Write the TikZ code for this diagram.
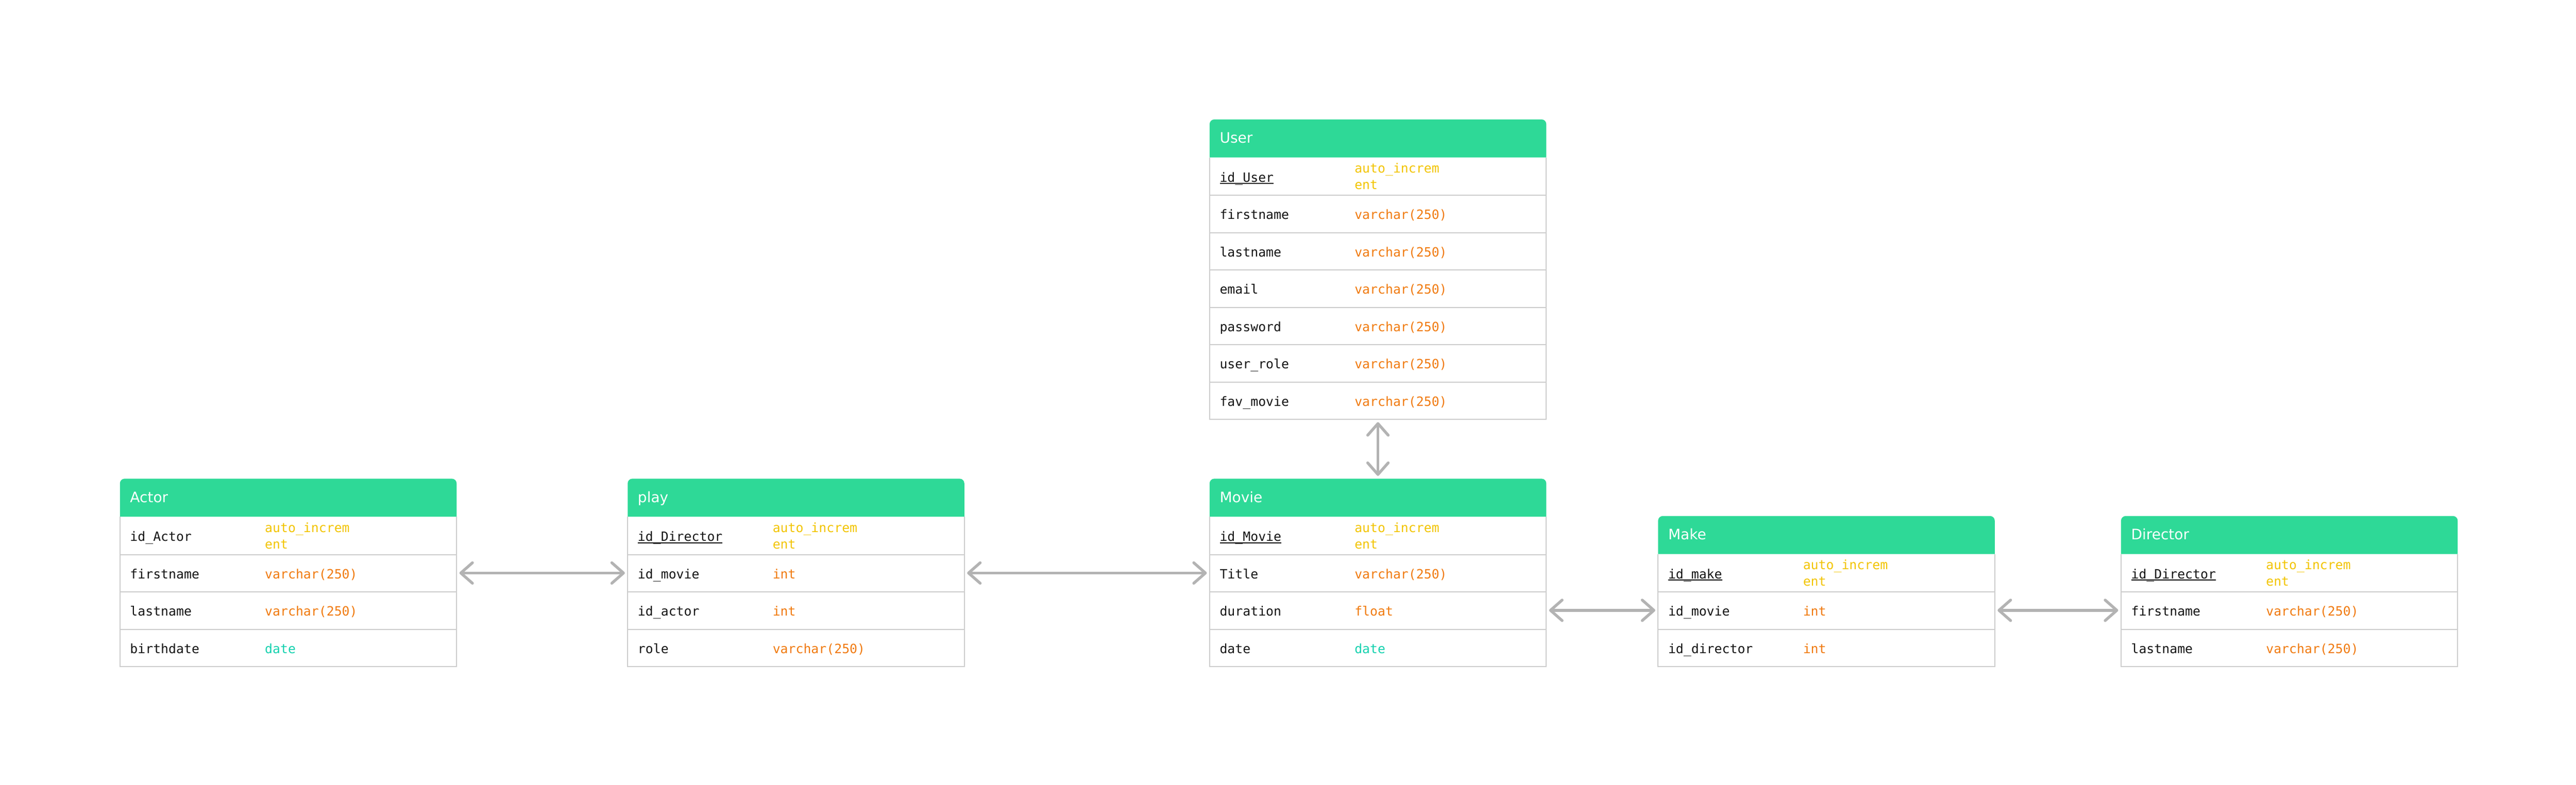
\documentclass[tikz,border=0pt]{standalone}
\usepackage{fontspec}
\usepackage{xcolor}
\usetikzlibrary{arrows.meta,backgrounds}

\newfontfamily\headfnt{DejaVu Sans}
\newfontfamily\monofnt{DejaVu Sans Mono}

\definecolor{hdrgreen}{HTML}{2ED997}
\definecolor{autoc}{HTML}{F2C400}
\definecolor{varc}{HTML}{F07A0E}
\definecolor{datec}{HTML}{14D1AE}
\definecolor{gridc}{HTML}{CCCCCC}
\definecolor{arrowc}{HTML}{B3B3B3}
\definecolor{ink}{HTML}{141414}

% primary key: underlined field name
\newcommand\pkey[1]{\setbox0\hbox{#1}\rlap{\rule[-0.045cm]{\wd0}{0.024cm}}\box0}

\tikzset{
  hdr/.style={anchor=north west, minimum width=7.2cm, minimum height=0.8cm, inner sep=0pt,
    text width=6.78cm, align=left, text height=0.23cm, text depth=0.03cm, text=white,
    font=\headfnt\fontsize{8.8}{10.5}\selectfont},
  fld/.style={anchor=north west, minimum width=7.2cm, minimum height=0.8cm, inner sep=0pt,
    text width=6.78cm, align=left, text height=0.27cm, text depth=0.03cm, text=ink,
    font=\monofnt\fontsize{7.8}{9.96}\selectfont},
  tvar/.style={anchor=west, inner sep=0pt, text height=0.27cm, text depth=0.03cm, text=varc,
    font=\monofnt\fontsize{7.8}{9.96}\selectfont},
  tdate/.style={tvar, text=datec},
  tauto/.style={anchor=west, inner sep=0pt, align=left, text=autoc,
    font=\monofnt\fontsize{7.8}{9.96}\selectfont},
  rowline/.style={draw=gridc, line width=0.025cm},
  rel/.style={draw=arrowc, line width=0.06cm,
    {Straight Barb[length=0.25cm,width=0.44cm,round]}-{Straight Barb[length=0.25cm,width=0.44cm,round]},
    shorten <=0.06cm, shorten >=0.06cm},
}

\begin{document}
\begin{tikzpicture}
    \useasboundingbox (0,0) rectangle (55.2,16.82);

    % User
    \node[hdr] (user) at (25.92,14.26) {User};
    \foreach \nm/\ty/\sty [count=\i] in {\pkey{id\_User}/auto\_increm\\ent/tauto,
        firstname/varchar(250)/tvar, lastname/varchar(250)/tvar, email/varchar(250)/tvar,
        password/varchar(250)/tvar, user\_role/varchar(250)/tvar, fav\_movie/varchar(250)/tvar}{
        \node[fld] (user-\i) at ([yshift={(1-\i)*0.8cm}]user.south west) {\nm};
        \node[\sty] at ([xshift=3.1cm]user-\i.west) {\ty};
        \draw[rowline] (user-\i.north west) |- (user-\i.south east) -- (user-\i.north east);
    }

    % Actor
    \node[hdr] (actor) at (2.57,6.56) {Actor};
    \foreach \nm/\ty/\sty [count=\i] in {id\_Actor/auto\_increm\\ent/tauto,
        firstname/varchar(250)/tvar, lastname/varchar(250)/tvar, birthdate/date/tdate}{
        \node[fld] (actor-\i) at ([yshift={(1-\i)*0.8cm}]actor.south west) {\nm};
        \node[\sty] at ([xshift=3.1cm]actor-\i.west) {\ty};
        \draw[rowline] (actor-\i.north west) |- (actor-\i.south east) -- (actor-\i.north east);
    }

    % play
    \node[hdr] (play) at (13.45,6.56) {play};
    \foreach \nm/\ty/\sty [count=\i] in {\pkey{id\_Director}/auto\_increm\\ent/tauto,
        id\_movie/int/tvar, id\_actor/int/tvar, role/varchar(250)/tvar}{
        \node[fld] (play-\i) at ([yshift={(1-\i)*0.8cm}]play.south west) {\nm};
        \node[\sty] at ([xshift=3.1cm]play-\i.west) {\ty};
        \draw[rowline] (play-\i.north west) |- (play-\i.south east) -- (play-\i.north east);
    }

    % Movie
    \node[hdr] (movie) at (25.92,6.56) {Movie};
    \foreach \nm/\ty/\sty [count=\i] in {\pkey{id\_Movie}/auto\_increm\\ent/tauto,
        Title/varchar(250)/tvar, duration/float/tvar, date/date/tdate}{
        \node[fld] (movie-\i) at ([yshift={(1-\i)*0.8cm}]movie.south west) {\nm};
        \node[\sty] at ([xshift=3.1cm]movie-\i.west) {\ty};
        \draw[rowline] (movie-\i.north west) |- (movie-\i.south east) -- (movie-\i.north east);
    }

    % Make
    \node[hdr] (make) at (35.53,5.76) {Make};
    \foreach \nm/\ty/\sty [count=\i] in {\pkey{id\_make}/auto\_increm\\ent/tauto,
        id\_movie/int/tvar, id\_director/int/tvar}{
        \node[fld] (make-\i) at ([yshift={(1-\i)*0.8cm}]make.south west) {\nm};
        \node[\sty] at ([xshift=3.1cm]make-\i.west) {\ty};
        \draw[rowline] (make-\i.north west) |- (make-\i.south east) -- (make-\i.north east);
    }

    % Director
    \node[hdr] (director) at (45.45,5.76) {Director};
    \foreach \nm/\ty/\sty [count=\i] in {\pkey{id\_Director}/auto\_increm\\ent/tauto,
        firstname/varchar(250)/tvar, lastname/varchar(250)/tvar}{
        \node[fld] (director-\i) at ([yshift={(1-\i)*0.8cm}]director.south west) {\nm};
        \node[\sty] at ([xshift=3.1cm]director-\i.west) {\ty};
        \draw[rowline] (director-\i.north west) |- (director-\i.south east) -- (director-\i.north east);
    }

    % green headers, rounded on top only
    \begin{scope}[on background layer]
        \foreach \tb in {user,actor,play,movie,make,director}
            \fill[hdrgreen, rounded corners=0.1cm] (\tb.south west) -- (\tb.north west)
                -- (\tb.north east) -- (\tb.south east);
    \end{scope}

    % relations
    \draw[rel] (actor-2.east) -- (play-2.west);
    \draw[rel] (play-2.east) -- (movie-2.west);
    \draw[rel] (user-7.south) -- (movie.north);
    \draw[rel] (movie-3.east) -- (make-2.west);
    \draw[rel] (make-2.east) -- (director-2.west);
\end{tikzpicture}
\end{document}
